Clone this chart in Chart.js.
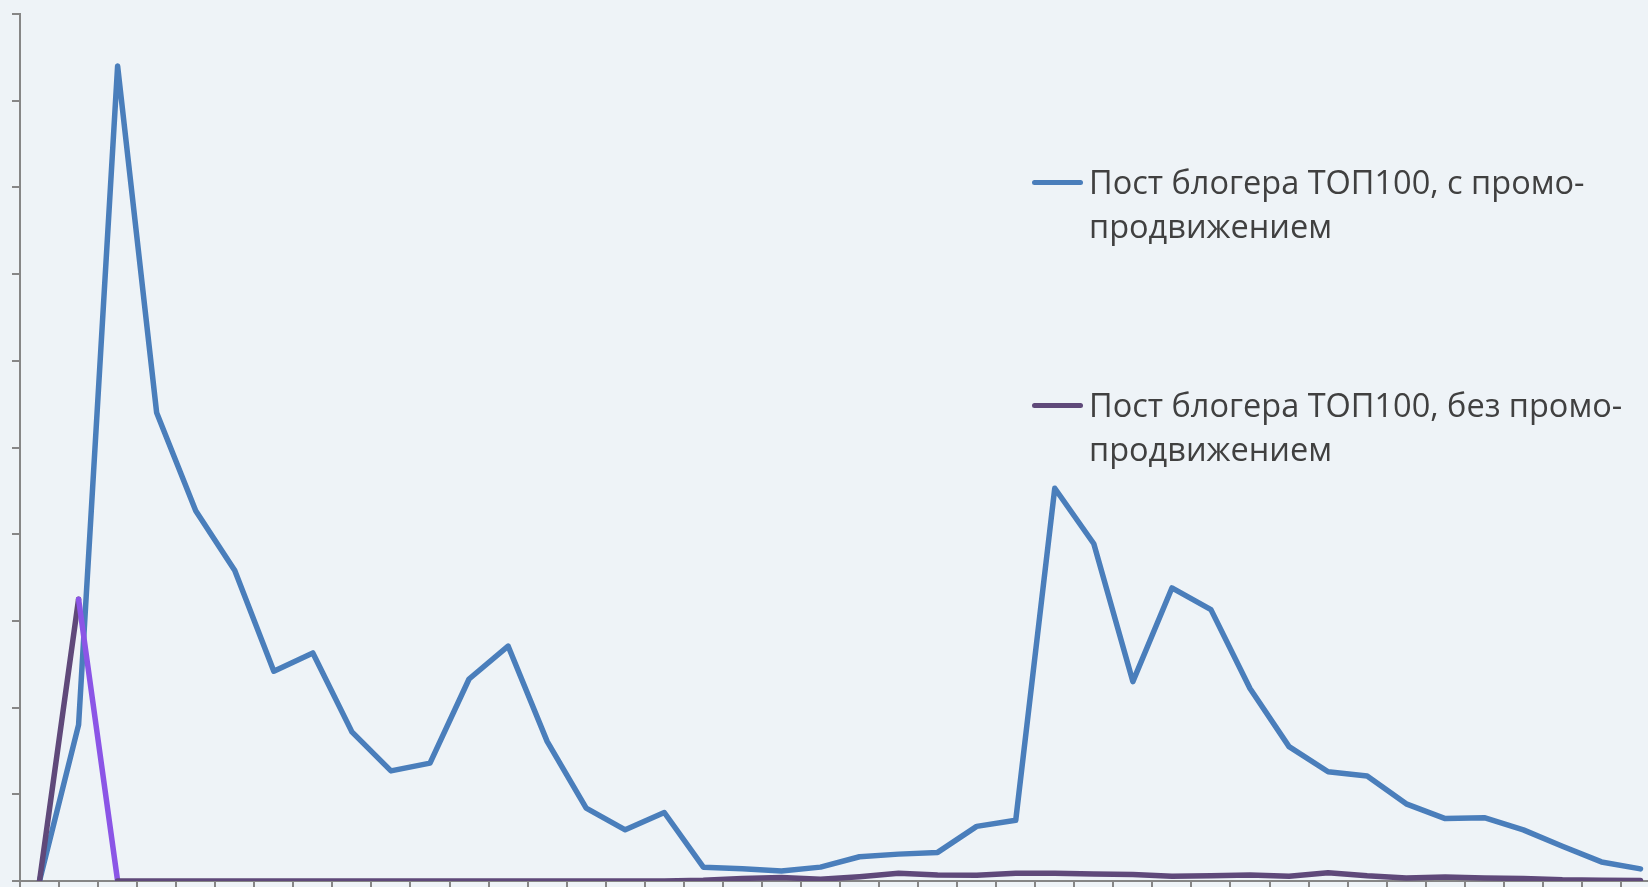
<!DOCTYPE html>
<html>
<head>
<meta charset="utf-8">
<script src="https://cdn.jsdelivr.net/npm/chart.js@4/dist/chart.umd.min.js"></script>
<style>
  html, body { margin: 0; padding: 0; background: #eef3f7; overflow: hidden; width: 1648px; height: 887px; }
  #wrap { position: absolute; left: 0; top: 0; width: 1660px; height: 887px; }
  #legend { position: absolute; left: 1032px; top: 160px; font-family: "Open Sans", "Noto Sans", sans-serif; font-size: 32.5px; color: #404040; line-height: 44px; }
  .item { display: flex; align-items: flex-start; }
  .swatch { width: 51px; height: 5px; border-radius: 2.5px; margin-top: 20px; margin-right: 6px; flex: none; }
</style>
</head>
<body>
<div id="wrap"><canvas id="c"></canvas></div>
<div id="legend"></div>
<script>
const categories = ['1','2','3','4','5','6','7','8','9','10','11','12','13','14','15','16','17','18','19','20','21','22','23','24','25','26','27','28','29','30','31','32','33','34','35','36','37','38','39','40','41','42'];
const seriesNames = ['Пост блогера ТОП100, с промо-продвижением', 'Пост блогера ТОП100, без промо-продвижением'];
const legendLines = [['Пост блогера ТОП100, с промо-', 'продвижением'], ['Пост блогера ТОП100, без промо-', 'продвижением']];
const withPromo = [0, 18.0, 94.0, 54.0, 42.7, 35.8, 24.2, 26.3, 17.2, 12.7, 13.6, 23.3, 27.1, 16.1, 8.4, 5.9, 7.9, 1.6, 1.4, 1.15, 1.6, 2.8, 3.1, 3.3, 6.3, 7.0, 45.3, 38.9, 23.0, 33.8, 31.3, 22.2, 15.5, 12.6, 12.1, 8.9, 7.2, 7.3, 5.9, 4.0, 2.2, 1.4];
const withoutPromo = [0, 32.5, 0, 0, 0, 0, 0, 0, 0, 0, 0, 0, 0, 0, 0, 0, 0, 0.1, 0.3, 0.4, 0.2, 0.5, 0.9, 0.7, 0.65, 0.9, 0.9, 0.8, 0.75, 0.55, 0.6, 0.7, 0.55, 0.95, 0.6, 0.35, 0.45, 0.35, 0.3, 0.15, 0.1, 0.05];
const yMin = 0, yMax = 100, yStep = 10;

const colors = ['#4a7ebb', '#5f497a'];
const highlightColor = '#8b55e6';
const axisColor = '#868686';

const chart = new Chart(document.getElementById('c'), {
  type: 'line',
  data: {
    labels: categories,
    datasets: [
      { label: seriesNames[0], data: withPromo, borderColor: colors[0], borderWidth: 5.5, pointRadius: 0, tension: 0, borderJoinStyle: 'round', borderCapStyle: 'round', order: 2 },
      { label: seriesNames[1], data: withoutPromo, borderColor: colors[1], borderWidth: 5.5, pointRadius: 0, tension: 0, borderJoinStyle: 'round', borderCapStyle: 'round', order: 1,
        segment: { borderColor: ctx => ctx.p0DataIndex === 1 ? highlightColor : undefined } }
    ]
  },
  options: {
    responsive: true,
    maintainAspectRatio: false,
    animation: false,
    layout: { padding: { left: 12, top: 14, right: 0, bottom: 0 } },
    plugins: { legend: { display: false }, tooltip: { enabled: false } },
    scales: {
      x: {
        type: 'category',
        offset: true,
        grid: { display: true, drawOnChartArea: false, drawTicks: true, tickLength: 6, color: axisColor, lineWidth: 2, offset: true },
        border: { display: true, color: axisColor, width: 2 },
        ticks: { display: false }
      },
      y: {
        min: yMin, max: yMax,
        grid: { display: true, drawOnChartArea: false, drawTicks: true, tickLength: 8, color: axisColor, lineWidth: 2 },
        border: { display: true, color: axisColor, width: 2 },
        ticks: { display: false, stepSize: yStep }
      }
    }
  }
});

const legend = document.getElementById('legend');
const tops = [0, 223];
chart.data.datasets.forEach((ds, i) => {
  const item = document.createElement('div');
  item.className = 'item';
  item.style.position = 'absolute';
  item.style.left = '0px';
  item.style.top = tops[i] + 'px';
  const sw = document.createElement('span');
  sw.className = 'swatch';
  sw.style.background = ds.borderColor;
  const txt = document.createElement('div');
  txt.style.whiteSpace = 'nowrap';
  txt.innerHTML = legendLines[i].join('<br>');
  item.appendChild(sw);
  item.appendChild(txt);
  legend.appendChild(item);
});
</script>
</body>
</html>
